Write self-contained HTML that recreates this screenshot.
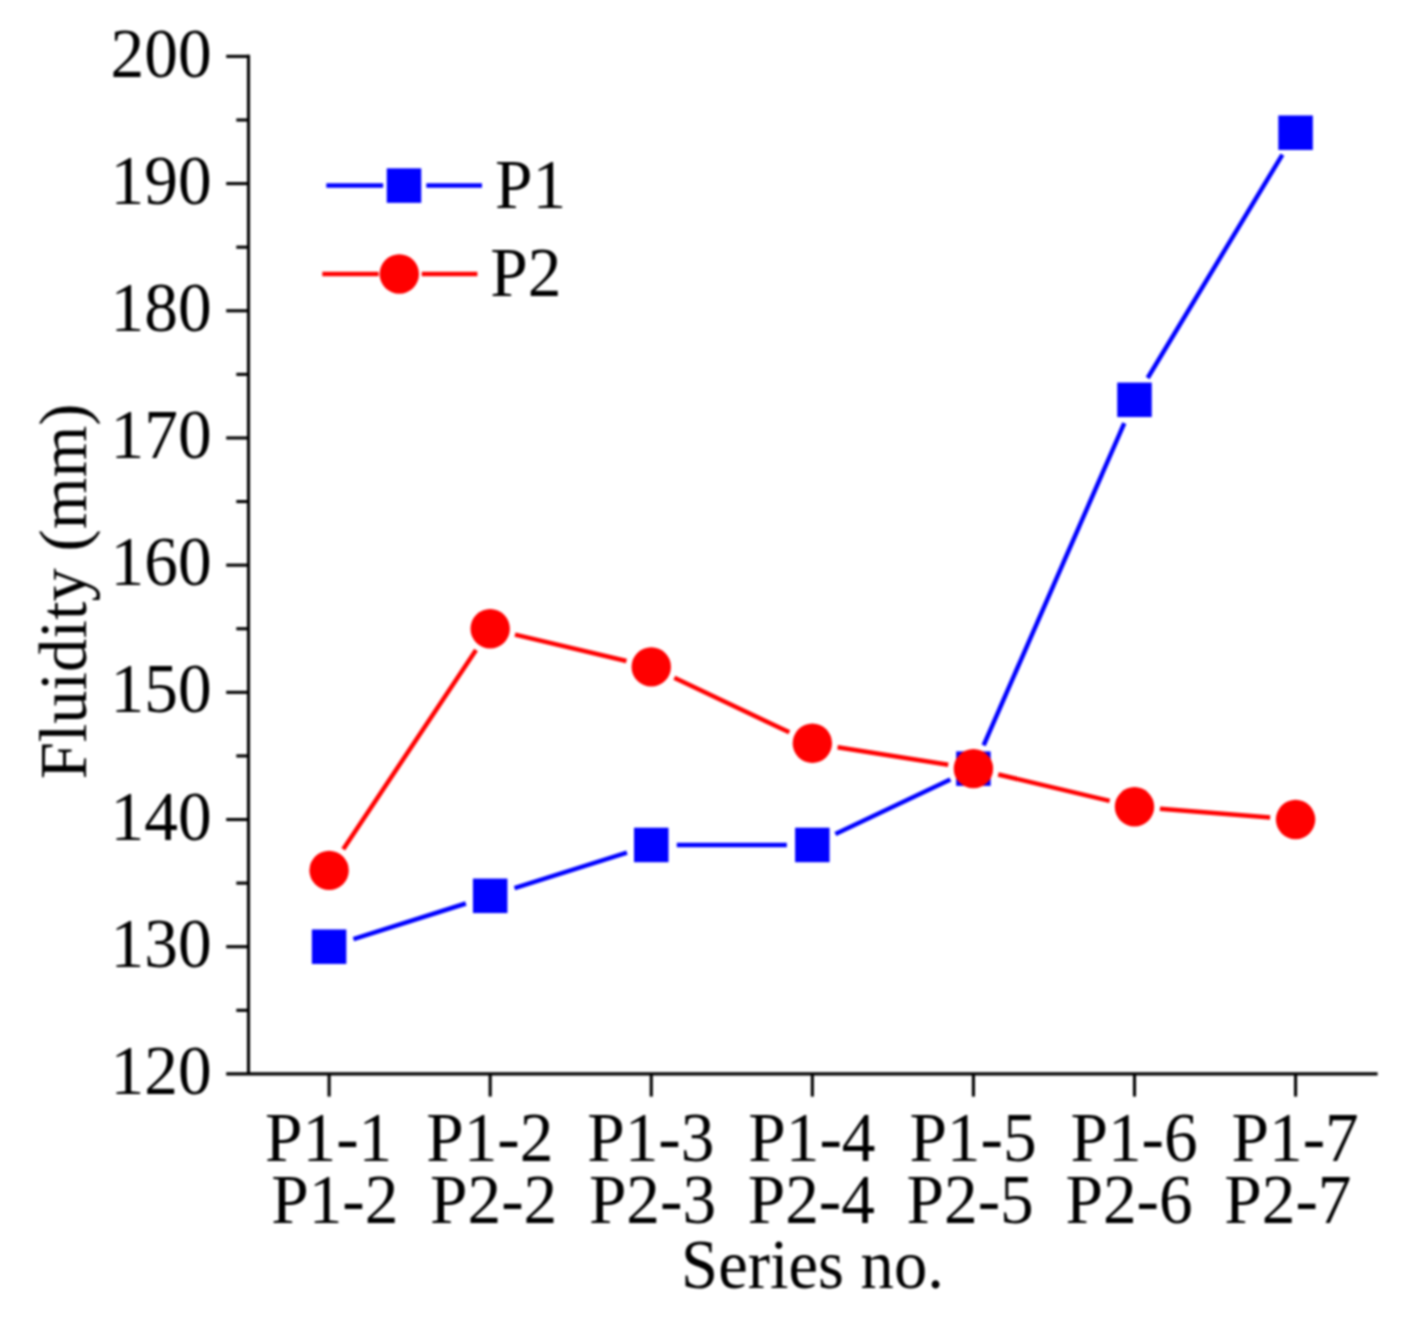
<!DOCTYPE html>
<html lang="en"><head><meta charset="utf-8"><title>Fluidity vs Series no.</title>
<style>html,body{margin:0;padding:0;background:#fff}body{width:1408px;height:1321px;overflow:hidden}svg{display:block}text{font-family:"Liberation Serif","Times New Roman",serif;font-size:66.67px;fill:#000}</style></head><body>
<svg width="1408" height="1321" viewBox="0 0 1408 1321">
<defs><filter id="soft" x="0" y="0" width="100%" height="100%" filterUnits="userSpaceOnUse" color-interpolation-filters="sRGB"><feGaussianBlur stdDeviation="0.8"/></filter></defs>
<g filter="url(#soft)">
<rect width="1408" height="1321" fill="#fff"/>
<g stroke="#000" stroke-width="3.10" fill="none" stroke-linecap="butt">
<line x1="248.50" y1="54.85" x2="248.50" y2="1073.90"/>
<line x1="226.20" y1="1073.90" x2="1377.60" y2="1073.90"/>
<line x1="236.30" y1="1010.31" x2="248.50" y2="1010.31"/>
<line x1="226.20" y1="946.71" x2="248.50" y2="946.71"/>
<line x1="236.30" y1="883.12" x2="248.50" y2="883.12"/>
<line x1="226.20" y1="819.52" x2="248.50" y2="819.52"/>
<line x1="236.30" y1="755.93" x2="248.50" y2="755.93"/>
<line x1="226.20" y1="692.34" x2="248.50" y2="692.34"/>
<line x1="236.30" y1="628.74" x2="248.50" y2="628.74"/>
<line x1="226.20" y1="565.15" x2="248.50" y2="565.15"/>
<line x1="236.30" y1="501.56" x2="248.50" y2="501.56"/>
<line x1="226.20" y1="437.96" x2="248.50" y2="437.96"/>
<line x1="236.30" y1="374.37" x2="248.50" y2="374.37"/>
<line x1="226.20" y1="310.77" x2="248.50" y2="310.77"/>
<line x1="236.30" y1="247.18" x2="248.50" y2="247.18"/>
<line x1="226.20" y1="183.59" x2="248.50" y2="183.59"/>
<line x1="236.30" y1="119.99" x2="248.50" y2="119.99"/>
<line x1="226.20" y1="56.40" x2="248.50" y2="56.40"/>
<line x1="329.10" y1="1073.90" x2="329.10" y2="1096.60"/>
<line x1="490.18" y1="1073.90" x2="490.18" y2="1096.60"/>
<line x1="651.26" y1="1073.90" x2="651.26" y2="1096.60"/>
<line x1="812.34" y1="1073.90" x2="812.34" y2="1096.60"/>
<line x1="973.42" y1="1073.90" x2="973.42" y2="1096.60"/>
<line x1="1134.50" y1="1073.90" x2="1134.50" y2="1096.60"/>
<line x1="1295.58" y1="1073.90" x2="1295.58" y2="1096.60"/>
</g>
<text transform="translate(211.60 1094.00) scale(1.010 1.060)" text-anchor="end">120</text>
<text transform="translate(211.60 966.81) scale(1.010 1.060)" text-anchor="end">130</text>
<text transform="translate(211.60 839.62) scale(1.010 1.060)" text-anchor="end">140</text>
<text transform="translate(211.60 712.44) scale(1.010 1.060)" text-anchor="end">150</text>
<text transform="translate(211.60 585.25) scale(1.010 1.060)" text-anchor="end">160</text>
<text transform="translate(211.60 458.06) scale(1.010 1.060)" text-anchor="end">170</text>
<text transform="translate(211.60 330.88) scale(1.010 1.060)" text-anchor="end">180</text>
<text transform="translate(211.60 203.69) scale(1.010 1.060)" text-anchor="end">190</text>
<text transform="translate(211.60 76.50) scale(1.010 1.060)" text-anchor="end">200</text>
<text transform="translate(328.70 1161.00) scale(1.010 1.040)" text-anchor="middle">P1-1</text>
<text transform="translate(489.78 1161.00) scale(1.010 1.040)" text-anchor="middle">P1-2</text>
<text transform="translate(650.86 1161.00) scale(1.010 1.040)" text-anchor="middle">P1-3</text>
<text transform="translate(811.94 1161.00) scale(1.010 1.040)" text-anchor="middle">P1-4</text>
<text transform="translate(973.02 1161.00) scale(1.010 1.040)" text-anchor="middle">P1-5</text>
<text transform="translate(1134.10 1161.00) scale(1.010 1.040)" text-anchor="middle">P1-6</text>
<text transform="translate(1295.18 1161.00) scale(1.010 1.040)" text-anchor="middle">P1-7</text>
<text transform="translate(271.20 1222.60) scale(1.010 1.040)" text-anchor="start">P1-2</text>
<text transform="translate(430.05 1222.60) scale(1.010 1.040)" text-anchor="start">P2-2</text>
<text transform="translate(588.90 1222.60) scale(1.010 1.040)" text-anchor="start">P2-3</text>
<text transform="translate(747.75 1222.60) scale(1.010 1.040)" text-anchor="start">P2-4</text>
<text transform="translate(906.60 1222.60) scale(1.010 1.040)" text-anchor="start">P2-5</text>
<text transform="translate(1065.45 1222.60) scale(1.010 1.040)" text-anchor="start">P2-6</text>
<text transform="translate(1224.30 1222.60) scale(1.010 1.040)" text-anchor="start">P2-7</text>
<text transform="translate(812.50 1288.00) scale(1.000 1.055)" text-anchor="middle">Series no.</text>
<text transform="translate(85.8 591.4) rotate(-90)" text-anchor="middle">Fluidity (mm)</text>
<g stroke="#0000ff" stroke-width="4.50" fill="none">
<line x1="353.42" y1="939.03" x2="465.86" y2="903.52"/>
<line x1="514.50" y1="888.16" x2="626.94" y2="852.64"/>
<line x1="676.76" y1="844.96" x2="786.84" y2="844.96"/>
<line x1="835.38" y1="834.04" x2="950.38" y2="779.57"/>
<line x1="983.63" y1="745.28" x2="1124.29" y2="423.17"/>
<line x1="1147.67" y1="377.97" x2="1282.41" y2="154.55"/>
</g>
<g fill="#0000ff">
<rect x="311.85" y="929.46" width="34.50" height="34.50"/>
<rect x="472.93" y="878.59" width="34.50" height="34.50"/>
<rect x="634.01" y="827.71" width="34.50" height="34.50"/>
<rect x="795.09" y="827.71" width="34.50" height="34.50"/>
<rect x="956.17" y="751.40" width="34.50" height="34.50"/>
<rect x="1117.25" y="382.56" width="34.50" height="34.50"/>
<rect x="1278.33" y="115.46" width="34.50" height="34.50"/>
</g>
<g stroke="#ff0000" stroke-width="4.50" fill="none">
<line x1="343.24" y1="849.18" x2="476.04" y2="649.96"/>
<line x1="514.99" y1="634.62" x2="626.45" y2="661.02"/>
<line x1="674.30" y1="677.82" x2="789.30" y2="732.29"/>
<line x1="837.53" y1="747.19" x2="948.23" y2="764.67"/>
<line x1="998.23" y1="774.53" x2="1109.69" y2="800.93"/>
<line x1="1159.92" y1="808.81" x2="1270.16" y2="817.52"/>
</g>
<g fill="#ff0000">
<circle cx="329.10" cy="870.40" r="19.70"/>
<circle cx="490.18" cy="628.74" r="19.70"/>
<circle cx="651.26" cy="666.90" r="19.70"/>
<circle cx="812.34" cy="743.21" r="19.70"/>
<circle cx="973.42" cy="768.65" r="19.70"/>
<circle cx="1134.50" cy="806.81" r="19.70"/>
<circle cx="1295.58" cy="819.52" r="19.70"/>
</g>
<g stroke-width="4.50" fill="none">
<line x1="326.3" y1="185.6" x2="383.2" y2="185.6" stroke="#0000ff"/>
<line x1="426.3" y1="185.6" x2="482" y2="185.6" stroke="#0000ff"/>
<line x1="322.3" y1="274" x2="378.6" y2="274" stroke="#ff0000"/>
<line x1="421.7" y1="274" x2="477.4" y2="274" stroke="#ff0000"/>
</g>
<rect x="386.75" y="168.35" width="34.50" height="34.50" fill="#0000ff"/>
<circle cx="399.3" cy="274" r="19.70" fill="#ff0000"/>
<text transform="translate(495.00 207.60) scale(1.010 1.040)" text-anchor="start">P1</text>
<text transform="translate(490.30 296.10) scale(1.010 1.040)" text-anchor="start">P2</text>
</g>
</svg></body></html>
